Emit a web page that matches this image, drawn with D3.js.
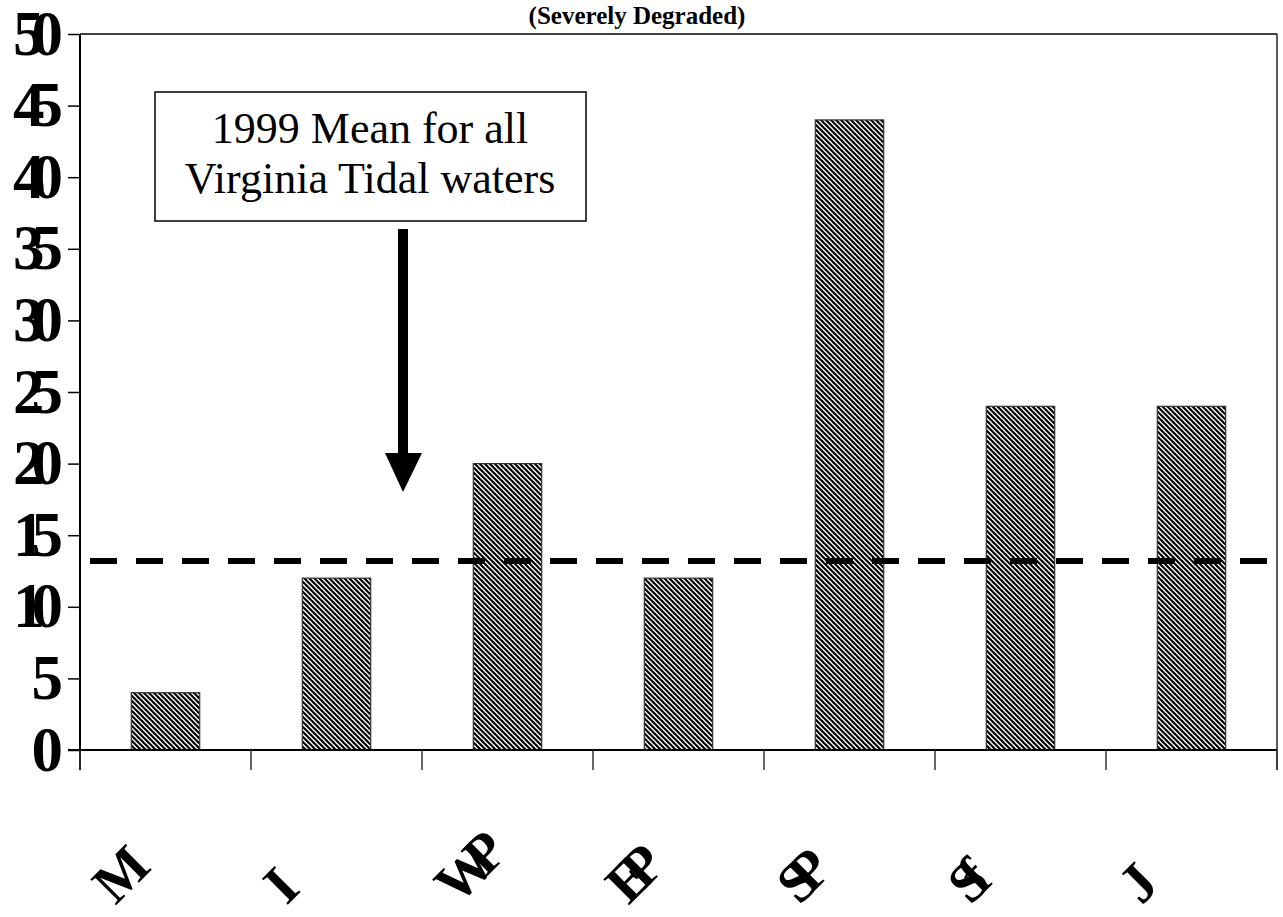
<!DOCTYPE html>
<html>
<head>
<meta charset="utf-8">
<script src="https://cdn.jsdelivr.net/npm/d3@7/dist/d3.min.js"></script>
<style>
    body { margin: 0; background: #fff; }
    svg { display: block; }
    text { font-family: "Liberation Serif", "Times New Roman", serif; }
</style>
</head>
<body>
<div id="chart"></div>
<script>

// values
var segments = ["M", "I", "WP", "EP", "SP", "Sf", "J"];
var values = [4, 12, 20, 12, 44, 24, 24];
var yTicks = [0, 5, 10, 15, 20, 25, 30, 35, 40, 45, 50];
var meanValue = 13.2;
var noteLines = ["1999 Mean for all", "Virginia Tidal waters"];
var subTitle = "(Severely Degraded)";

var width = 1283, height = 917;
var margin = {top: 34, right: 6, bottom: 167, left: 80};
var plotW = width - margin.left - margin.right,
    plotH = height - margin.top - margin.bottom;

var svg = d3.select("#chart")
    .append("svg")
    .attr("width", width)
    .attr("height", height);

// hatch for the bars
var defs = svg.append("defs");
var pat = defs.append("pattern")
    .attr("id", "hatch")
    .attr("patternUnits", "userSpaceOnUse")
    .attr("width", 5)
    .attr("height", 5);
pat.append("rect").attr("width", 5).attr("height", 5).attr("fill", "#fff");
pat.append("path")
    .attr("d", "M0,0 L5,5 M-1,4 L1,6 M4,-1 L6,1")
    .attr("stroke", "#000")
    .attr("stroke-width", 2.2);

var g = svg.append("g")
    .attr("transform", "translate(" + margin.left + "," + margin.top + ")");

var xScale = d3.scaleBand()
    .domain(segments)
    .range([0, plotW])
    .paddingInner(0.6)
    .paddingOuter(0.3);

var yScale = d3.scaleLinear()
    .domain([0, 50])
    .range([plotH, 0]);

// frame top + right
g.append("line")
    .attr("x1", 0).attr("x2", plotW)
    .attr("y1", 0).attr("y2", 0)
    .attr("stroke", "#000").attr("stroke-width", 1.5);
g.append("line")
    .attr("x1", plotW).attr("x2", plotW)
    .attr("y1", 0).attr("y2", plotH + 20)
    .attr("stroke", "#222").attr("stroke-width", 1.5);

// y axis
var yAxis = d3.axisLeft(yScale)
    .tickValues(yTicks)
    .tickSize(12)
    .tickFormat(d3.format("d"));

var yAxisG = g.append("g")
    .attr("class", "y axis")
    .call(yAxis);
yAxisG.select("path.domain").remove();
yAxisG.selectAll("line").attr("stroke", "#000").attr("stroke-width", 1.5);
yAxisG.selectAll("text")
    .attr("x", -30)
    .attr("dy", "0.32em")
    .style("font-size", "63px")
    .style("font-weight", "700")
    .style("letter-spacing", "-13px")
    .attr("fill", "#000");

g.append("line")
    .attr("x1", 0).attr("x2", 0)
    .attr("y1", 0).attr("y2", plotH + 20)
    .attr("stroke", "#000").attr("stroke-width", 2);

// bars
g.selectAll("rect.bar")
    .data(values)
    .enter()
    .append("rect")
    .attr("class", "bar")
    .attr("x", function (d, i) { return xScale(segments[i]); })
    .attr("y", function (d) { return yScale(d); })
    .attr("width", xScale.bandwidth())
    .attr("height", function (d) { return plotH - yScale(d); })
    .attr("fill", "url(#hatch)")
    .attr("stroke", "#333")
    .attr("stroke-width", 1.2);

// x axis: ticks on band edges
var step = xScale.step();
var edges = d3.range(segments.length + 1).map(function (i) {
    return xScale(segments[0]) - xScale.paddingOuter() * step + i * step;
});
g.append("line")
    .attr("x1", -12).attr("x2", plotW)
    .attr("y1", plotH).attr("y2", plotH)
    .attr("stroke", "#000").attr("stroke-width", 2);
g.selectAll("line.xtick")
    .data(edges)
    .enter()
    .append("line")
    .attr("class", "xtick")
    .attr("x1", function (d) { return d; })
    .attr("x2", function (d) { return d; })
    .attr("y1", plotH)
    .attr("y2", plotH + 20)
    .attr("stroke", "#333")
    .attr("stroke-width", 1.5);

g.selectAll("text.xlab")
    .data(segments)
    .enter()
    .append("text")
    .attr("class", "xlab")
    .attr("transform", function (d) {
        var cx = xScale(d) + xScale.bandwidth() / 2 - 50;
        return "translate(" + cx + "," + (plotH + 156) + ") rotate(-45)";
    })
    .style("font-size", "56px")
    .style("font-weight", "700")
    .style("letter-spacing", "-16px")
    .attr("fill", "#000")
    .text(function (d) { return d; });

// mean line
g.append("line")
    .attr("x1", 10).attr("x2", plotW + 20)
    .attr("y1", yScale(meanValue)).attr("y2", yScale(meanValue))
    .attr("stroke", "#000")
    .attr("stroke-width", 6)
    .attr("stroke-dasharray", "27,19");

// note box + arrow
var note = svg.append("g");
note.append("rect")
    .attr("x", 155).attr("y", 92)
    .attr("width", 431).attr("height", 129)
    .attr("fill", "#fff")
    .attr("stroke", "#000")
    .attr("stroke-width", 1.5);
note.selectAll("text")
    .data(noteLines)
    .enter()
    .append("text")
    .attr("x", 370)
    .attr("y", function (d, i) { return 143 + i * 50; })
    .attr("text-anchor", "middle")
    .style("font-size", "44px")
    .attr("fill", "#000")
    .text(function (d) { return d; });

note.append("rect")
    .attr("x", 398).attr("y", 229)
    .attr("width", 10).attr("height", 228)
    .attr("fill", "#000");
note.append("path")
    .attr("d", "M385,453 L422,453 L403,492 Z")
    .attr("fill", "#000");

// title above the frame
svg.append("text")
    .attr("x", 637)
    .attr("y", 24)
    .attr("text-anchor", "middle")
    .style("font-size", "25px")
    .style("font-weight", "700")
    .attr("fill", "#000")
    .text(subTitle);

</script>
</body>
</html>
